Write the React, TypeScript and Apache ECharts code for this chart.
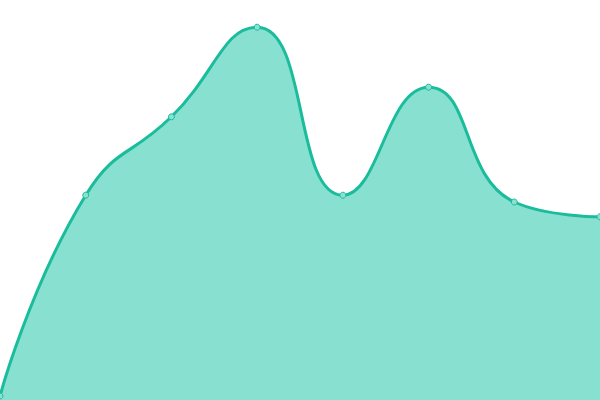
import React, { useEffect, useRef } from "react";
import * as echarts from "echarts";

const categories = ["A", "B", "C", "D", "E", "F", "G", "H"];
const values = [1, 51.2, 70.8, 93.2, 51.2, 78.2, 49.5, 45.8];

export default function App() {
  const ref = useRef<HTMLDivElement>(null);
  useEffect(() => {
    const chart = echarts.init(ref.current!, null, { renderer: "svg" });
    chart.setOption({
      animation: false,
      grid: { left: 0, right: 0, top: 0, bottom: 0 },
      xAxis: {
        type: "category",
        data: categories,
        boundaryGap: false,
        show: false,
      },
      yAxis: { type: "value", min: 0, max: 100, show: false },
      series: [
        {
          type: "line",
          data: values,
          smooth: true,
          symbol: "circle",
          symbolSize: 6,
          showSymbol: true,
          lineStyle: { color: "#1abc9c", width: 3 },
          itemStyle: { color: "#8ce0d0", borderColor: "#1abc9c", borderWidth: 1 },
          areaStyle: { color: "#88e0d0", opacity: 1 },
        },
      ],
    });
    return () => chart.dispose();
  }, []);
  return (
    <div
      ref={ref}
      style={{ position: "fixed", left: 0, top: 0, width: 600, height: 400 }}
    />
  );
}
